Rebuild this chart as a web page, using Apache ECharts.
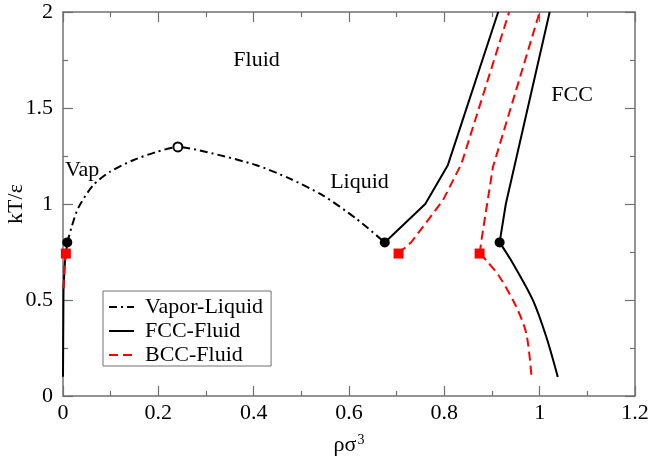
<!DOCTYPE html>
<html>
<head>
<meta charset="utf-8">
<script src="https://cdn.jsdelivr.net/npm/echarts@6/dist/echarts.min.js"></script>
<style>html,body{margin:0;padding:0;background:#fff}#c{width:651px;height:459px}</style>
</head>
<body>
<div id="c"></div>
<script>
// ---- data ----
const vaporLiquid = [[0.009,0.8],[0.018,0.88],[0.032,0.98],[0.063,1.097],[0.098,1.167],[0.147,1.228],[0.196,1.271],[0.241,1.297],[0.301,1.271],[0.406,1.202],[0.476,1.132],[0.545,1.045],[0.615,0.924],[0.675,0.8]];
const fccGas = [[0.0,0.1],[0.001,0.55],[0.004,0.7],[0.009,0.8]];
const fccLiquid = [[0.675,0.8],[0.76,1.0],[0.807,1.2],[0.913,2.0]];
const fccSolidUp = [[0.916,0.8],[0.929,1.0],[1.021,2.0]];
const fccSolidDown = [[0.916,0.8],[0.944,0.69],[0.986,0.498],[1.014,0.307],[1.038,0.099]];
const bccGas = [[0.001,0.56],[0.003,0.68],[0.006,0.742]];
const bccLiquid = [[0.704,0.742],[0.731,0.802],[0.797,1.019],[0.836,1.21],[0.936,2.0]];
const bccSolidUp = [[0.874,0.742],[0.880,0.846],[0.902,1.193],[1.0,2.0]];
const bccSolidDown = [[0.874,0.742],[0.888,0.707],[0.916,0.62],[0.951,0.464],[0.972,0.325],[0.983,0.099]];
const triplePoints = [[0.009,0.8],[0.675,0.8],[0.916,0.8]];
const bccPoints = [[0.006,0.742],[0.704,0.742],[0.874,0.742]];
const criticalPoint = [[0.241,1.297]];
const regionLabels = [
  {name:'Fluid', value:[0.406,1.748]},
  {name:'Vap', value:[0.040,1.176]},
  {name:'Liquid', value:[0.622,1.115]},
  {name:'FCC', value:[1.068,1.566]}
];
const legendNames = ['Vapor-Liquid','FCC-Fluid','BCC-Fluid'];

// ---- chart ----
const FONT = '"Liberation Serif","Times New Roman",serif';
const AX = '#707070';
function xAx(pos, lbl){
  return {type:'value', position:pos, min:0, max:1.2, interval:0.2,
    axisLine:{show:true,onZero:false,lineStyle:{color:AX,width:1.5}},
    axisTick:{show:true,inside:true,length:10,lineStyle:{color:AX,width:1.2}},
    minorTick:{show:true,splitNumber:2,length:5,lineStyle:{color:AX,width:1.2}},
    splitLine:{show:false}, minorSplitLine:{show:false},
    axisLabel:{show:lbl,color:'#000',fontFamily:FONT,fontSize:22,margin:6},
    name: lbl ? '{a|ρσ}{s|3}' : '', nameLocation:'middle', nameGap:37, nameMoveOverlap:false,
    nameTextStyle:{rich:{a:{fontFamily:FONT,fontSize:22,color:'#000'},s:{fontFamily:FONT,fontSize:14,color:'#000',verticalAlign:'top',padding:[0,0,10,1]}}}
  };
}
function yAx(pos, lbl){
  return {type:'value', position:pos, min:0, max:2, interval:0.5,
    axisLine:{show:true,onZero:false,lineStyle:{color:AX,width:1.5}},
    axisTick:{show:true,inside:true,length:10,lineStyle:{color:AX,width:1.2}},
    minorTick:{show:true,splitNumber:2,length:5,lineStyle:{color:AX,width:1.2}},
    splitLine:{show:false}, minorSplitLine:{show:false},
    axisLabel:{show:lbl,color:'#000',fontFamily:FONT,fontSize:22,margin:10},
    name: lbl ? 'kT/ε' : '', nameLocation:'middle', nameGap:36, nameMoveOverlap:false,
    nameTextStyle:{fontFamily:FONT,fontSize:22,color:'#000'}
  };
}
function line(name, data, color, type, smooth){
  return {type:'line', name:name, data:data, xAxisIndex:0, yAxisIndex:0,
    symbol:'none', smooth:smooth||false, silent:true, animation:false,
    lineStyle:{color:color,width:2,type:type}, itemStyle:{color:color}, z:3};
}
const dashDot = [8,4,2,4];
const dashed = [9,5];
const option = {
  backgroundColor:'#fff',
  animation:false,
  grid:{left:63,right:16,top:12,bottom:63,containLabel:false,outerBoundsMode:'none'},
  xAxis:[xAx('bottom',true), xAx('top',false)],
  yAxis:[yAx('left',true), yAx('right',false)],
  legend:{data:legendNames, orient:'vertical', left:103, top:291,
    itemWidth:25, itemHeight:14, itemGap:2,
    itemStyle:{opacity:0},
    padding:[5,8,0,5], borderColor:'#707070', borderWidth:1, backgroundColor:'#fff',
    textStyle:{fontFamily:FONT,fontSize:22,color:'#000',lineHeight:22,padding:[0,0,0,6]},
    selectedMode:false},
  series:[
    line('Vapor-Liquid', vaporLiquid, '#000', dashDot, 0.25),
    line('FCC-Fluid', fccGas, '#000', 'solid'),
    line('FCC-Fluid', fccLiquid, '#000', 'solid'),
    line('FCC-Fluid', fccSolidUp, '#000', 'solid'),
    line('FCC-Fluid', fccSolidDown, '#000', 'solid', 0.3),
    line('BCC-Fluid', bccGas, '#ff0000', dashed),
    line('BCC-Fluid', bccLiquid, '#ff0000', dashed),
    line('BCC-Fluid', bccSolidUp, '#ff0000', dashed),
    line('BCC-Fluid', bccSolidDown, '#ff0000', dashed, 0.3),
    {type:'scatter', name:'tp', data:triplePoints, symbol:'circle', symbolSize:10, itemStyle:{color:'#000',opacity:1}, z:5, silent:true},
    {type:'scatter', name:'bp', data:bccPoints, symbol:'rect', symbolSize:10, itemStyle:{color:'#ff0000',opacity:1}, z:5, silent:true},
    {type:'scatter', name:'cp', data:criticalPoint, symbol:'circle', symbolSize:9, itemStyle:{color:'#fff',borderColor:'#000',borderWidth:2,opacity:1}, z:5, silent:true},
    {type:'scatter', name:'lbl', data:regionLabels, symbolSize:0, silent:true, z:6, itemStyle:{opacity:1},
      label:{show:true, position:'inside', formatter:p=>p.name, fontFamily:FONT, fontSize:22, color:'#000', textBorderWidth:0}}
  ]
};
const chart = echarts.init(document.getElementById('c'), null, {renderer:'canvas'});
chart.setOption(option);
</script>
</body>
</html>
